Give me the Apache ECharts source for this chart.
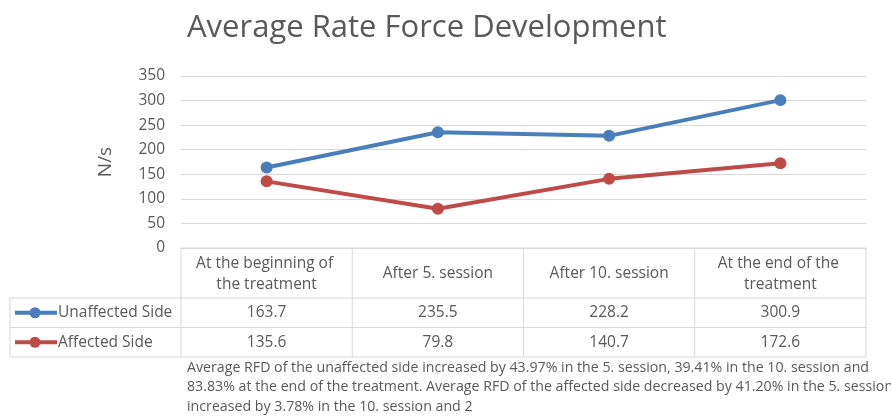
<!DOCTYPE html>
<html><head><meta charset="utf-8">
<script src="https://cdn.jsdelivr.net/npm/echarts@6/dist/echarts.min.js"></script>
<style>html,body{margin:0;padding:0;background:#fff}#c{width:891px;height:416px}</style>
</head><body><div id="c"></div>
<script>
const titleText = 'Average Rate Force Development';
const categories = ['At the beginning of the treatment', 'After 5. session', 'After 10. session', 'At the end of the treatment'];
const seriesNames = ['Unaffected Side', 'Affected Side'];
const unaffected = [163.7, 235.5, 228.2, 300.9];
const affected = [135.6, 79.8, 140.7, 172.6];
const yMin = 0, yMax = 350, yInterval = 50;
const yName = 'N/s';
const noteLines = [
  'Average RFD of the unaffected side increased by 43.97% in the 5. session, 39.41% in the 10. session and',
  '83.83% at the end of the treatment. Average RFD of the affected side decreased by 41.20% in the 5. session',
  'increased by 3.78% in the 10. session and 2'
];

const FONT = '"Open Sans", "Noto Sans", sans-serif';
const colors = ['#4A7EBB', '#BE4B48'];
const txt = '#595959';
const border = '#D9D9D9';

const chart = echarts.init(document.getElementById('c'), null, {renderer: 'canvas'});
chart.setOption({
  animation: false,
  textStyle: {fontFamily: FONT},
  title: {text: titleText, left: 182, top: 13, padding: [0, 5],
    textStyle: {fontFamily: FONT, fontSize: 31, fontWeight: 'normal', color: txt}},
  grid: {left: 181, right: 25, top: 76, bottom: 168},
  xAxis: {type: 'category', data: categories, boundaryGap: true,
    axisLabel: {show: false}, axisTick: {show: false},
    axisLine: {lineStyle: {color: border, width: 1}}},
  yAxis: {type: 'value', min: yMin, max: yMax, interval: yInterval,
    name: yName, nameLocation: 'middle', nameGap: 66,
    nameTextStyle: {fontFamily: FONT, fontSize: 19, color: txt},
    axisLabel: {color: txt, fontSize: 15.5, margin: 16, fontFamily: FONT},
    axisLine: {show: false}, axisTick: {show: false},
    splitLine: {lineStyle: {color: border, width: 1}}},
  series: [
    {name: seriesNames[0], type: 'line', data: unaffected, symbol: 'circle', symbolSize: 12,
      itemStyle: {color: colors[0]}, lineStyle: {color: colors[0], width: 4}},
    {name: seriesNames[1], type: 'line', data: affected, symbol: 'circle', symbolSize: 12,
      itemStyle: {color: colors[1]}, lineStyle: {color: colors[1], width: 4}}
  ]
});

(function () {
  const cx = categories.map(c => chart.convertToPixel({xAxisIndex: 0}, c));
  const colW = cx[1] - cx[0];
  const tableL = cx[0] - colW / 2;
  const tableR = cx[cx.length - 1] + colW / 2;
  const tTop = chart.convertToPixel({yAxisIndex: 0}, yMin);
  const headH = 50, rowH = 29.5;
  const legL = 10;
  const els = [];
  const line = (x1, y1, x2, y2) => els.push({type: 'line', silent: true, shape: {x1, y1, x2, y2}, style: {stroke: border, lineWidth: 1}});
  const r1 = tTop + headH, r2 = r1 + rowH, r3 = r2 + rowH;
  line(tableL, tTop, tableR, tTop);
  line(legL, r1, tableR, r1);
  line(legL, r2, tableR, r2);
  line(legL, r3, tableR, r3);
  line(legL, r1, legL, r3);
  for (let i = 0; i <= categories.length; i++) {
    const x = tableL + i * colW;
    line(x, tTop, x, r3);
  }
  const tstyle = (text, x, y, extra) => Object.assign({text, x, y, fill: txt, font: '15.5px ' + FONT, align: 'center', verticalAlign: 'middle'}, extra || {});
  categories.forEach((c, i) => {
    els.push({type: 'text', silent: true, style: tstyle(c, cx[i], tTop + headH / 2 + 1, {width: 158, overflow: 'break', lineHeight: 21})});
  });
  [unaffected, affected].forEach((vals, r) => {
    const yc = r1 + rowH * r + rowH / 2;
    vals.forEach((v, i) => {
      els.push({type: 'text', silent: true, style: tstyle(v.toFixed(1), cx[i], yc)});
    });
    els.push({type: 'line', silent: true, shape: {x1: 15, y1: yc, x2: 57, y2: yc}, style: {stroke: colors[r], lineWidth: 4}});
    els.push({type: 'circle', silent: true, shape: {cx: 35, cy: yc, r: 5.5}, style: {fill: colors[r]}});
    els.push({type: 'text', silent: true, style: tstyle(seriesNames[r], 58, yc, {align: 'left'})});
  });
  noteLines.forEach((t, i) => {
    els.push({type: 'text', silent: true, style: {text: t, x: 187, y: 367.5 + i * 19.5, fill: txt, font: '14.2px ' + FONT, align: 'left', verticalAlign: 'middle'}});
  });
  chart.setOption({graphic: {elements: els}});
})();
</script>
</body></html>
